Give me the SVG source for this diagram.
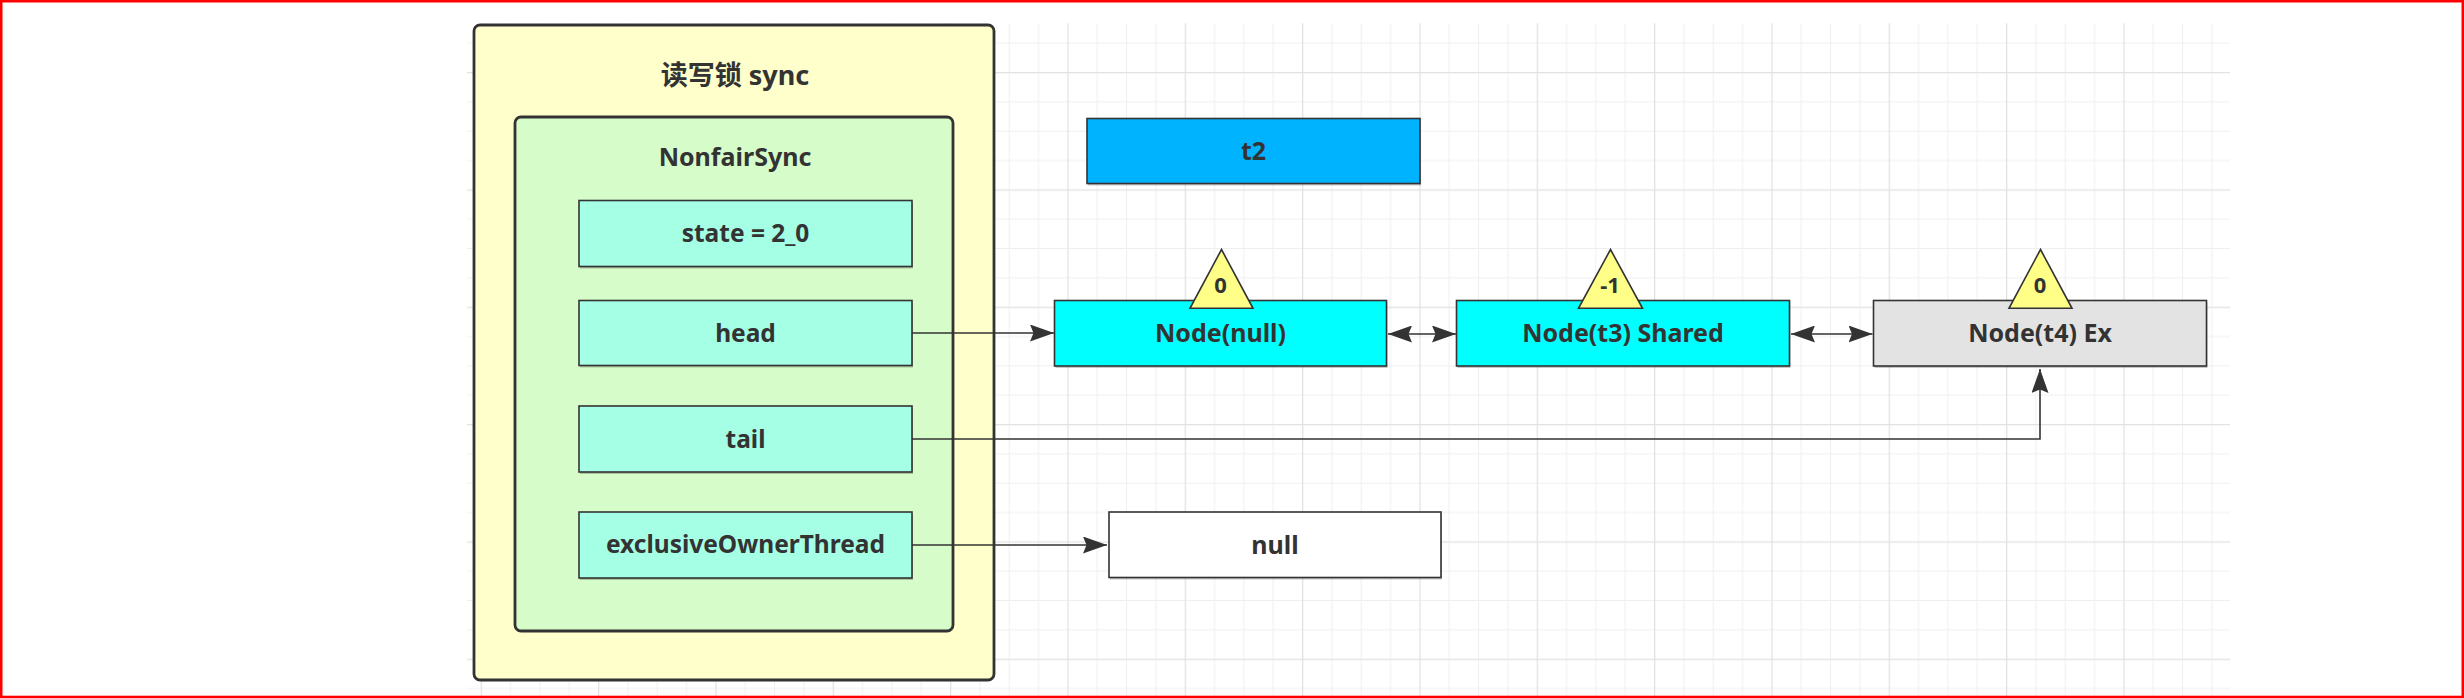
<svg xmlns="http://www.w3.org/2000/svg" width="2464" height="698" viewBox="0 0 2464 698">
<style>
  text { font-family: "Noto Sans", "Noto Sans CJK SC", sans-serif; font-weight: bold; fill: #333333; text-anchor: middle; }
  .t27 { font-size: 27px; }
  .t25 { font-size: 25px; }
  .t24 { font-size: 24.5px; }
  .t20 { font-size: 22px; }
  .box { stroke: #333333; stroke-width: 1.6; }
  .sh { fill: #000000; opacity: 0.22; }
  .field { fill: #A5FFE5; }
  .node { fill: #00FFFF; }
  .tri { fill: #FFFF88; stroke: #333333; stroke-width: 1.6; stroke-linejoin: miter; }
  .conn { fill: none; stroke: #333333; stroke-width: 1.6; }
</style>
<defs>
  <pattern id="grid" patternUnits="userSpaceOnUse" x="363.35" y="-45.3" width="117.333" height="117.333">
    <rect x="29.33" y="0" width="1" height="117.333" fill="#efefef"/>
    <rect x="58.67" y="0" width="1" height="117.333" fill="#efefef"/>
    <rect x="88" y="0" width="1" height="117.333" fill="#efefef"/>
    <rect x="0" y="29.33" width="117.333" height="1" fill="#efefef"/>
    <rect x="0" y="58.67" width="117.333" height="1" fill="#efefef"/>
    <rect x="0" y="88" width="117.333" height="1" fill="#efefef"/>
    <rect x="0" y="0" width="1.3" height="117.333" fill="#e2e2e2"/>
    <rect x="0" y="0" width="117.333" height="1.3" fill="#e2e2e2"/>
  </pattern>
  <marker id="arr" markerUnits="userSpaceOnUse" viewBox="0 0 24 17" refX="24" refY="8.5" markerWidth="24" markerHeight="17" orient="auto-start-reverse">
    <path d="M0,0 L24,8.5 L0,17 L3.5,8.5 Z" fill="#333333"/>
  </marker>
</defs>

<rect x="0" y="0" width="2464" height="698" fill="#ffffff"/>
<rect x="467" y="23.3" width="1763" height="675" fill="url(#grid)"/>
<rect x="1.2" y="1.2" width="2461.6" height="695.8" fill="none" stroke="#ff0000" stroke-width="2.6"/>

<g id="sync">
  <rect x="474" y="25" width="520" height="655" rx="6" fill="#FFFFCC" stroke="#333333" stroke-width="2.8"/>
  <text class="t27" x="735" y="85">读写锁 sync</text>
</g>

<g id="nonfairSync">
  <rect x="515" y="117" width="438" height="514" rx="6" fill="#D6FCC9" stroke="#333333" stroke-width="2.8"/>
  <text class="t25" x="735" y="165.5">NonfairSync</text>
</g>

<g id="state">
  <rect class="sh" x="580" y="202.5" width="333" height="66"/>
  <rect class="box field" x="579" y="200.5" width="333" height="66"/>
  <text class="t24" x="745.5" y="242">state = 2_0</text>
</g>

<g id="head">
  <rect class="sh" x="580" y="302.5" width="333" height="65"/>
  <rect class="box field" x="579" y="300.5" width="333" height="65"/>
  <text class="t24" x="745.5" y="341.5">head</text>
</g>

<g id="tail">
  <rect class="sh" x="580" y="408" width="333" height="66"/>
  <rect class="box field" x="579" y="406" width="333" height="66"/>
  <text class="t24" x="745.5" y="447.5">tail</text>
</g>

<g id="exclusiveOwnerThread">
  <rect class="sh" x="580" y="514" width="333" height="66"/>
  <rect class="box field" x="579" y="512" width="333" height="66"/>
  <text class="t24" x="745.5" y="553">exclusiveOwnerThread</text>
</g>

<g id="t2">
  <rect class="sh" x="1088" y="120.5" width="333" height="65"/>
  <rect class="box" x="1087" y="118.5" width="333" height="65" fill="#00B3FF"/>
  <text class="t25" x="1253.5" y="160">t2</text>
</g>

<g id="nodeNull">
  <rect class="sh" x="1055.5" y="302.5" width="332" height="65.5"/>
  <rect class="box node" x="1054.5" y="300.5" width="332" height="65.5"/>
  <text class="t25" x="1220.5" y="342">Node(null)</text>
  <polygon class="tri" points="1221.5,249.5 1253,308.3 1190,308.3"/>
  <text class="t20" x="1220.5" y="293">0</text>
</g>

<g id="nodeT3">
  <rect class="sh" x="1457.5" y="302.5" width="333" height="65.5"/>
  <rect class="box node" x="1456.5" y="300.5" width="333" height="65.5"/>
  <text class="t25" x="1623" y="342">Node(t3) Shared</text>
  <polygon class="tri" points="1610.5,249.5 1642.5,308.3 1578.5,308.3"/>
  <text class="t20" x="1610" y="293">-1</text>
</g>

<g id="nodeT4">
  <rect class="sh" x="1874.5" y="302.5" width="333" height="65.5"/>
  <rect class="box" x="1873.5" y="300.5" width="333" height="65.5" fill="#E3E3E3"/>
  <text class="t25" x="2040" y="342">Node(t4) Ex</text>
  <polygon class="tri" points="2040.5,249.5 2072,308.3 2009,308.3"/>
  <text class="t20" x="2040" y="293">0</text>
</g>

<g id="nullBox">
  <rect class="sh" x="1110" y="514" width="332" height="65.5"/>
  <rect class="box" x="1109" y="512" width="332" height="65.5" fill="#ffffff"/>
  <text class="t25" x="1275" y="553.5">null</text>
</g>

<g id="connectors">
  <path class="conn" d="M912,333 L1054,333" marker-end="url(#arr)"/>
  <path class="conn" d="M1388,334 L1456,334" marker-start="url(#arr)" marker-end="url(#arr)"/>
  <path class="conn" d="M1791,334 L1872.5,334" marker-start="url(#arr)" marker-end="url(#arr)"/>
  <path class="conn" d="M912,439 L2040,439 L2040,369" marker-end="url(#arr)"/>
  <path class="conn" d="M912,545 L1107,545" marker-end="url(#arr)"/>
</g>
</svg>
